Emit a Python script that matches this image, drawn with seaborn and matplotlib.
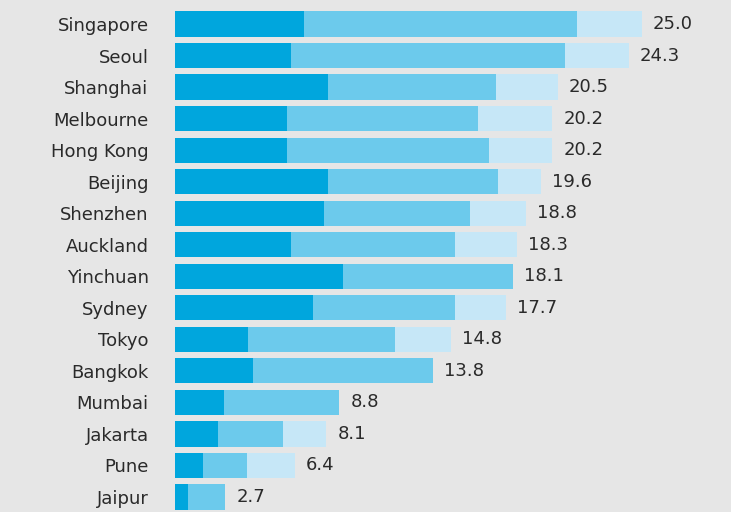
import matplotlib
matplotlib.use("Agg")
import matplotlib.pyplot as plt
import seaborn as sns
import pandas as pd
import numpy as np

cities = ["Singapore", "Seoul", "Shanghai", "Melbourne", "Hong Kong", "Beijing",
          "Shenzhen", "Auckland", "Yinchuan", "Sydney", "Tokyo", "Bangkok",
          "Mumbai", "Jakarta", "Pune", "Jaipur"]
seg1 = [6.9, 6.2, 8.2, 6.0, 6.0, 8.2, 8.0, 6.2, 9.0, 7.4, 3.9, 4.2, 2.6, 2.3, 1.5, 0.7]
seg2 = [14.6, 14.7, 9.0, 10.2, 10.8, 9.1, 7.8, 8.8, 9.1, 7.6, 7.9, 9.6, 6.2, 3.5, 2.35, 2.0]
totals = [25.0, 24.3, 20.5, 20.2, 20.2, 19.6, 18.8, 18.3, 18.1, 17.7, 14.8, 13.8, 8.8, 8.1, 6.4, 2.7]
labels = ["25.0", "24.3", "20.5", "20.2", "20.2", "19.6", "18.8", "18.3", "18.1",
          "17.7", "14.8", "13.8", "8.8", "8.1", "6.4", "2.7"]

c_dark = "#00a6dd"
c_mid = "#6ccaec"
c_light = "#c6e7f7"
bg = "#e6e6e6"

df = pd.DataFrame({"city": cities, "s1": seg1, "s2": seg2, "total": totals})
df["cum2"] = df["s1"] + df["s2"]

sns.set_theme(style="white")
plt.rcParams["font.family"] = ["DejaVu Sans"]

fig = plt.figure(figsize=(7.31, 5.12), dpi=100, facecolor=bg)
ax = fig.add_axes([175 / 731, 0, 556 / 731, 1])
ax.set_facecolor(bg)

sns.barplot(data=df, y="city", x="total", order=cities, color=c_light, width=0.8,
            orient="h", ax=ax, saturation=1, linewidth=0)
sns.barplot(data=df, y="city", x="cum2", order=cities, color=c_mid, width=0.8,
            orient="h", ax=ax, saturation=1, linewidth=0)
sns.barplot(data=df, y="city", x="s1", order=cities, color=c_dark, width=0.8,
            orient="h", ax=ax, saturation=1, linewidth=0)

for i, (t, lab) in enumerate(zip(totals, labels)):
    ax.annotate(lab, xy=(t, i), xytext=(11, 0), textcoords="offset pixels",
                ha="left", va="center", fontsize=13, color="#2a2a2a")

ax.set_xlim(0, 556 / 18.68)
ax.set_ylim(15.476, -0.761)
ax.set_xlabel("")
ax.set_ylabel("")
ax.set_xticks([])
ax.tick_params(axis="y", length=0, pad=19, labelsize=13, labelcolor="#2a2a2a")
for s in ax.spines.values():
    s.set_visible(False)

fig.savefig("out.png", dpi=100, facecolor=bg)
